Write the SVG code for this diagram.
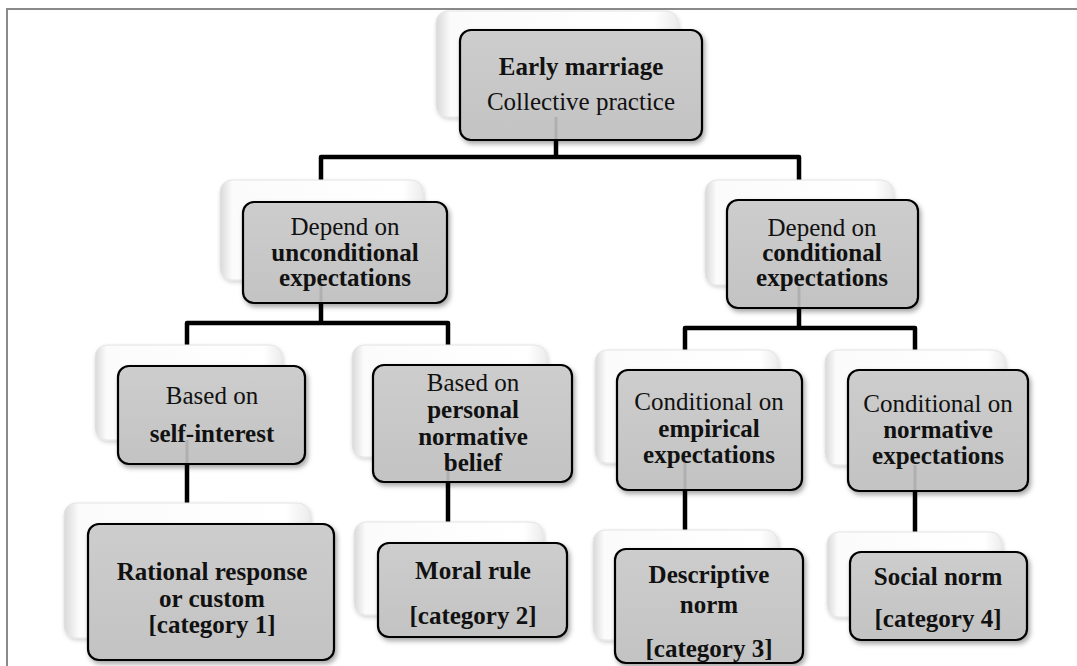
<svg xmlns="http://www.w3.org/2000/svg" width="1077" height="666" viewBox="0 0 1077 666">
<style>
.back{fill:url(#gBack);stroke:#e4e4e4;stroke-width:1;filter:url(#fBack)}
.front{fill:url(#gFront);stroke:#000;stroke-width:2.2;filter:url(#fShadow)}
.t{font-family:"Liberation Serif","Times New Roman",serif;font-size:25px;fill:#111;text-anchor:middle}
.b{font-weight:bold}
.conn{fill:none;stroke:#000;stroke-width:4.5;stroke-linejoin:round}
.ghost{stroke:#a9a9a9;stroke-width:3;opacity:.75}
</style>
<defs>
<linearGradient id="gBack" x1="0" y1="0" x2="1" y2="0">
<stop offset="0" stop-color="#d9d9d9"/><stop offset="0.06" stop-color="#fbfbfb"/><stop offset="0.9" stop-color="#ffffff"/><stop offset="1" stop-color="#ececec"/>
</linearGradient>
<linearGradient id="gFront" x1="0" y1="0" x2="0" y2="1">
<stop offset="0" stop-color="#cdcdcd"/><stop offset="1" stop-color="#c3c3c3"/>
</linearGradient>
<filter id="fShadow" x="-10%" y="-10%" width="125%" height="130%">
<feDropShadow dx="2" dy="3" stdDeviation="2.5" flood-color="#000" flood-opacity="0.35"/>
</filter>
<filter id="fBack" x="-10%" y="-10%" width="125%" height="130%">
<feDropShadow dx="1" dy="2" stdDeviation="2" flood-color="#000" flood-opacity="0.18"/>
</filter>
</defs>
<rect x="0" y="0" width="1077" height="666" fill="#fff"/>
<rect x="7" y="9" width="1085" height="680" fill="#fff" stroke="#8a8a8a" stroke-width="2"/>

<g id="connectors">
<path class="conn" d="M556,138 V157"/>
<path class="conn" d="M321,180 V157 H799 V180"/>
<path class="conn" d="M321,301 V323"/>
<path class="conn" d="M187,345 V323 H448 V345"/>
<path class="conn" d="M799,306 V328"/>
<path class="conn" d="M685,350 V328 H915 V350"/>
<path class="conn" d="M187,462 V503"/>
<path class="conn" d="M448,480 V522"/>
<path class="conn" d="M685,488 V530"/>
<path class="conn" d="M915,489 V532"/>
</g>

<g id="n-early">
<rect class="back" x="436" y="11" width="242" height="106" rx="12"/>
<rect class="front" x="460" y="30" width="242" height="110" rx="11"/>
<line class="ghost" x1="556" y1="117" x2="556" y2="139"/>
<text class="t" x="581" y="75"><tspan class="b">Early marriage</tspan><tspan x="581" dy="35">Collective practice</tspan></text>
</g>

<g id="n-uncond">
<rect class="back" x="220" y="180" width="203" height="100" rx="12"/>
<rect class="front" x="243" y="202" width="204" height="101" rx="11"/>
<line class="ghost" x1="321" y1="280" x2="321" y2="302"/>
<text class="t" x="345" y="235">Depend on<tspan class="b" x="345" dy="26">unconditional</tspan><tspan class="b" x="345" dy="25">expectations</tspan></text>
</g>

<g id="n-cond">
<rect class="back" x="705" y="180" width="188" height="105" rx="12"/>
<rect class="front" x="727" y="200" width="191" height="108" rx="11"/>
<line class="ghost" x1="799" y1="285" x2="799" y2="307"/>
<text class="t" x="822" y="236">Depend on<tspan class="b" x="822" dy="25">conditional</tspan><tspan class="b" x="822" dy="25">expectations</tspan></text>
</g>

<g id="n-self">
<rect class="back" x="95" y="345" width="187" height="95" rx="12"/>
<rect class="front" x="118" y="366" width="187" height="98" rx="11"/>
<line class="ghost" x1="187" y1="440" x2="187" y2="463"/>
<text class="t" x="212" y="404">Based on<tspan class="b" x="212" dy="38">self-interest</tspan></text>
</g>

<g id="n-personal">
<rect class="back" x="352" y="345" width="195" height="112" rx="12"/>
<rect class="front" x="373" y="365" width="199" height="117" rx="11"/>
<line class="ghost" x1="448" y1="457" x2="448" y2="481"/>
<text class="t" x="473" y="391">Based on<tspan class="b" x="473" dy="27">personal</tspan><tspan class="b" x="473" dy="27">normative</tspan><tspan class="b" x="473" dy="26">belief</tspan></text>
</g>

<g id="n-empirical">
<rect class="back" x="595" y="350" width="183" height="113" rx="12"/>
<rect class="front" x="617" y="370" width="185" height="120" rx="11"/>
<line class="ghost" x1="685" y1="463" x2="685" y2="489"/>
<text class="t" x="709" y="410">Conditional on<tspan class="b" x="709" dy="27">empirical</tspan><tspan class="b" x="709" dy="26">expectations</tspan></text>
</g>

<g id="n-normative">
<rect class="back" x="825" y="350" width="180" height="115" rx="12"/>
<rect class="front" x="848" y="370" width="180" height="121" rx="11"/>
<line class="ghost" x1="915" y1="465" x2="915" y2="490"/>
<text class="t" x="938" y="412">Conditional on<tspan class="b" x="938" dy="26">normative</tspan><tspan class="b" x="938" dy="26">expectations</tspan></text>
</g>

<g id="n-cat1">
<rect class="back" x="64" y="503" width="246" height="135" rx="12"/>
<rect class="front" x="88" y="524" width="246" height="136" rx="11"/>
<text class="t b" x="212" y="580">Rational response<tspan x="212" dy="27">or custom</tspan><tspan x="212" dy="26">[category 1]</tspan></text>
</g>

<g id="n-cat2">
<rect class="back" x="354" y="522" width="189" height="93" rx="12"/>
<rect class="front" x="378" y="543" width="189" height="94" rx="11"/>
<text class="t b" x="473" y="579">Moral rule<tspan x="473" dy="45">[category 2]</tspan></text>
</g>

<g id="n-cat3">
<rect class="back" x="593" y="530" width="185" height="110" rx="12"/>
<rect class="front" x="615" y="549" width="188" height="114" rx="11"/>
<text class="t b" x="709" y="583">Descriptive<tspan x="709" dy="30">norm</tspan><tspan x="709" dy="44">[category 3]</tspan></text>
</g>

<g id="n-cat4">
<rect class="back" x="827" y="532" width="175" height="85" rx="12"/>
<rect class="front" x="850" y="552" width="177" height="88" rx="11"/>
<text class="t b" x="938" y="585">Social norm<tspan x="938" dy="42">[category 4]</tspan></text>
</g>
</svg>
